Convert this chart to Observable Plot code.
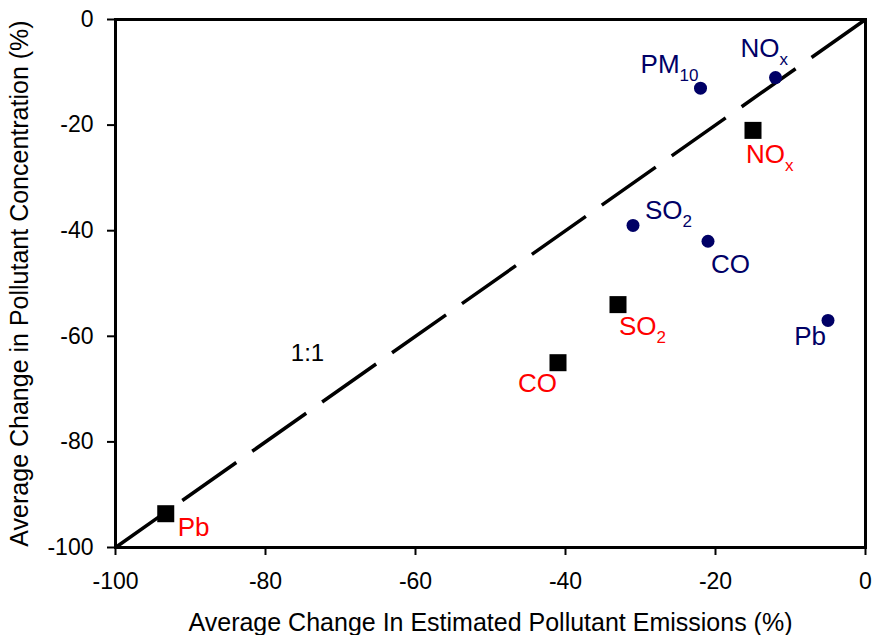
<!DOCTYPE html>
<html>
<head>
<meta charset="utf-8">
<script src="https://cdn.jsdelivr.net/npm/d3@7"></script>
<script src="https://cdn.jsdelivr.net/npm/@observablehq/plot@0.6"></script>
<style>
  html, body { margin: 0; padding: 0; background: #fff; }
  #chart svg { display: block; }
</style>
</head>
<body>
<div id="chart"></div>
<script>
// ---- data ----
// Series A (navy circles, navy labels)
const circleNames = ["PM10", "NOx", "SO2", "CO", "Pb"];
const circleMain  = ["PM", "NO", "SO", "CO", "Pb"];
const circleSub   = ["10", "x", "2", "", ""];
const circleEmis  = [-22, -12, -31, -21, -5];
const circleConc  = [-13, -11, -39, -42, -57];

// Series B (black squares, red labels)
const squareNames = ["NOx", "SO2", "CO", "Pb"];
const squareMain  = ["NO", "SO", "CO", "Pb"];
const squareSub   = ["x", "2", "", ""];
const squareEmis  = [-15, -33, -41, -93.3];
const squareConc  = [-21, -54, -65, -93.6];

// 1:1 reference line and its annotation
const oneToOne = [0, -100];
const annotationText = ["1:1"];
const annotationX = [-74.4];
const annotationY = [-63.3];

// axes
const xTicks = [-100, -80, -60, -40, -20, 0];
const yTicks = [-100, -80, -60, -40, -20, 0];
const xTitle = "Average Change In Estimated Pollutant Emissions (%)";
const yTitle = "Average Change in Pollutant Concentration (%)";

// ---- presentation ----
const NAVY = "#000066";
const RED = "#ff0000";
const FONT = "'Liberation Sans', Arial, Helvetica, sans-serif";

// label placement (pixels relative to marker, baseline anchored)
const circleLabelPos = {
  PM10: {a: "end",   dx: -2,  dy: -15},
  NOx:  {a: "start", dx: -35, dy: -21},
  SO2:  {a: "start", dx: 12,  dy: -6},
  CO:   {a: "start", dx: 3,   dy: 32},
  Pb:   {a: "end",   dx: -2,  dy: 25}
};
const squareLabelPos = {
  NOx: {a: "start", dx: -7, dy: 33},
  SO2: {a: "start", dx: 1,  dy: 30},
  CO:  {a: "end",   dx: -1, dy: 29},
  Pb:  {a: "start", dx: 12, dy: 22}
};

const circles = circleNames.map((n, i) => ({name: n, main: circleMain[i], sub: circleSub[i], x: circleEmis[i], y: circleConc[i]}));
const squares = squareNames.map((n, i) => ({name: n, main: squareMain[i], sub: squareSub[i], x: squareEmis[i], y: squareConc[i]}));
const lineData = oneToOne.map(v => ({x: v, y: v}));
const annotations = annotationText.map((t, i) => ({t, x: annotationX[i], y: annotationY[i]}));

function labelMarks(rows, pos, color) {
  return rows.map(d => {
    const p = pos[d.name];
    return Plot.text([d], {
      x: "x", y: "y", text: r => r.main + r.sub,
      textAnchor: p.a, lineAnchor: "bottom", dx: p.dx, dy: p.dy,
      fill: color, fontSize: 26
    });
  });
}

const chart = Plot.plot({
  width: 875,
  height: 635,
  marginLeft: 115,
  marginRight: 10,
  marginTop: 19,
  marginBottom: 88,
  style: {fontFamily: FONT, fontSize: "23px", background: "#fff", color: "#000"},
  x: {domain: [-100, 0], axis: null},
  y: {domain: [-100, 0], axis: null},
  marks: [
    Plot.axisX({ticks: xTicks, tickSize: 8, tickPadding: 17, strokeWidth: 2, fontSize: 23, label: null, tickFormat: d => d < 0 ? "-" + Math.abs(d) : String(d)}),
    Plot.axisY({ticks: yTicks, tickSize: 8, tickPadding: 14, strokeWidth: 2, fontSize: 23, label: null, tickFormat: d => d < 0 ? "-" + Math.abs(d) : String(d)}),
    Plot.line(lineData, {x: "x", y: "y", stroke: "#000", strokeWidth: 3.5, strokeDasharray: "66,19.5", strokeLinecap: "butt"}),
    Plot.frame({stroke: "#000", strokeWidth: 3}),
    Plot.dot(circles, {x: "x", y: "y", r: 6.5, fill: NAVY, symbol: "circle"}),
    Plot.dot(squares, {x: "x", y: "y", r: 9.6, fill: "#000", symbol: "square"}),
    ...labelMarks(circles, circleLabelPos, NAVY),
    ...labelMarks(squares, squareLabelPos, RED),
    Plot.text(annotations, {x: "x", y: "y", text: "t", fontSize: 24, fill: "#000"}),
    Plot.text([xTitle], {frameAnchor: "bottom", text: d => d, textAnchor: "middle", lineAnchor: "middle", dy: 75, fontSize: 25, fill: "#000"}),
    Plot.text([yTitle], {frameAnchor: "left", text: d => d, textAnchor: "middle", lineAnchor: "middle", dx: -96, rotate: -90, fontSize: 25, fill: "#000"})
  ]
});

// render subscripts as tspans
const subMap = new Map();
[...circles, ...squares].forEach(d => { if (d.sub) subMap.set(d.main + d.sub, d); });
d3.select(chart).selectAll("text").each(function() {
  const t = this.textContent;
  if (this.childElementCount === 0 && subMap.has(t)) {
    const d = subMap.get(t);
    this.textContent = d.main;
    const ts = document.createElementNS("http://www.w3.org/2000/svg", "tspan");
    ts.setAttribute("font-size", "17px");
    ts.setAttribute("dy", "8");
    ts.textContent = d.sub;
    this.appendChild(ts);
  }
});

document.getElementById("chart").appendChild(chart);
</script>
</body>
</html>
